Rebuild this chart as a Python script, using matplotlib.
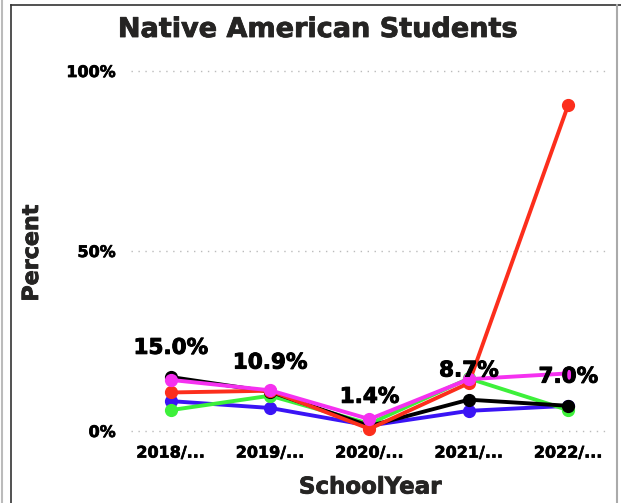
import matplotlib
matplotlib.use("Agg")
import matplotlib.pyplot as plt
import matplotlib.patheffects as pe
from matplotlib.lines import Line2D

# data
years = ["2018/...", "2019/...", "2020/...", "2021/...", "2022/..."]
black_vals = [15.0, 10.9, 1.4, 8.7, 7.0]
magenta_vals = [14.2, 11.3, 3.3, 14.4, 16.0]
red_vals = [10.7, 11.2, 0.6, 13.3, 90.6]
blue_vals = [8.3, 6.4, 1.5, 5.6, 7.0]
green_vals = [5.8, 9.8, 2.0, 14.6, 5.8]
label_texts = ["15.0%", "10.9%", "1.4%", "8.7%", "7.0%"]
y_ticks = [0, 50, 100]
y_tick_labels = ["0%", "50%", "100%"]

plt.rcParams['font.family'] = ['DejaVu Sans']

fig = plt.figure(figsize=(6.21, 5.03), dpi=100)
ax = fig.add_axes([131 / 621, 63 / 503, 477 / 621, 380 / 503])

x = list(range(len(years)))
heavy = [pe.withStroke(linewidth=0.7, foreground="black")]

# draw order matters: magenta ends up on top
series = [
    (blue_vals, "#3A14F5"),
    (green_vals, "#3DF03A"),
    (black_vals, "#000000"),
    (red_vals, "#FC2E1C"),
    (magenta_vals, "#F531F0"),
]
for vals, col in series:
    ax.plot(x, vals, color=col, lw=2.8, marker="o", ms=8.5, clip_on=False)

# data labels follow the black series
for i, v in enumerate(black_vals):
    ax.annotate(label_texts[i], (x[i], v), xytext=(0, 21), textcoords="offset points",
                ha="center", va="center", fontsize=15.5, fontweight="bold", color="black",
                path_effects=heavy)

ax.set_xlim(-0.4, 4.4)
ax.set_ylim(-2.5, 103.06)
ax.set_yticks(y_ticks)
ax.set_yticklabels(y_tick_labels)
ax.set_xticks(x)
ax.set_xticklabels(years)
ax.tick_params(axis="both", length=0, labelsize=11.5)
ax.tick_params(axis="y", pad=11)
ax.tick_params(axis="x", pad=4)
for lab in ax.get_xticklabels() + ax.get_yticklabels():
    lab.set_fontweight("bold")
    lab.set_path_effects([pe.withStroke(linewidth=0.5, foreground="black")])
for s in ax.spines.values():
    s.set_visible(False)
ax.yaxis.grid(True, linestyle=(0, (1, 4)), color="#bbbbbb", lw=1)
ax.set_axisbelow(True)

dark = [pe.withStroke(linewidth=0.6, foreground="#252423")]
fig.text(318 / 621, 1 - 30 / 503, "Native American Students", ha="center", va="center",
         fontsize=19.5, fontweight="bold", color="#252423", path_effects=dark)
fig.text(370 / 621, 1 - 487 / 503, "SchoolYear", ha="center", va="center",
         fontsize=16.5, fontweight="bold", color="#252423", path_effects=dark)
fig.text(32 / 621, 1 - 253 / 503, "Percent", ha="center", va="center", rotation=90,
         fontsize=16, fontweight="bold", color="#252423", path_effects=dark)

# card border lines
fig.add_artist(Line2D([11 / 621, 11 / 621], [0, 1 - 5 / 503], transform=fig.transFigure,
                      color="#333333", lw=1.2))
fig.add_artist(Line2D([11 / 621, 1], [1 - 5 / 503, 1 - 5 / 503], transform=fig.transFigure,
                      color="#333333", lw=1.2))
fig.add_artist(Line2D([617 / 621, 617 / 621], [0, 1 - 5 / 503], transform=fig.transFigure,
                      color="#aaaaaa", lw=1.5))
fig.add_artist(Line2D([2 / 621, 2 / 621], [0, 1], transform=fig.transFigure,
                      color="#bbbbbb", lw=1.5))

fig.savefig("out.png", dpi=100)
